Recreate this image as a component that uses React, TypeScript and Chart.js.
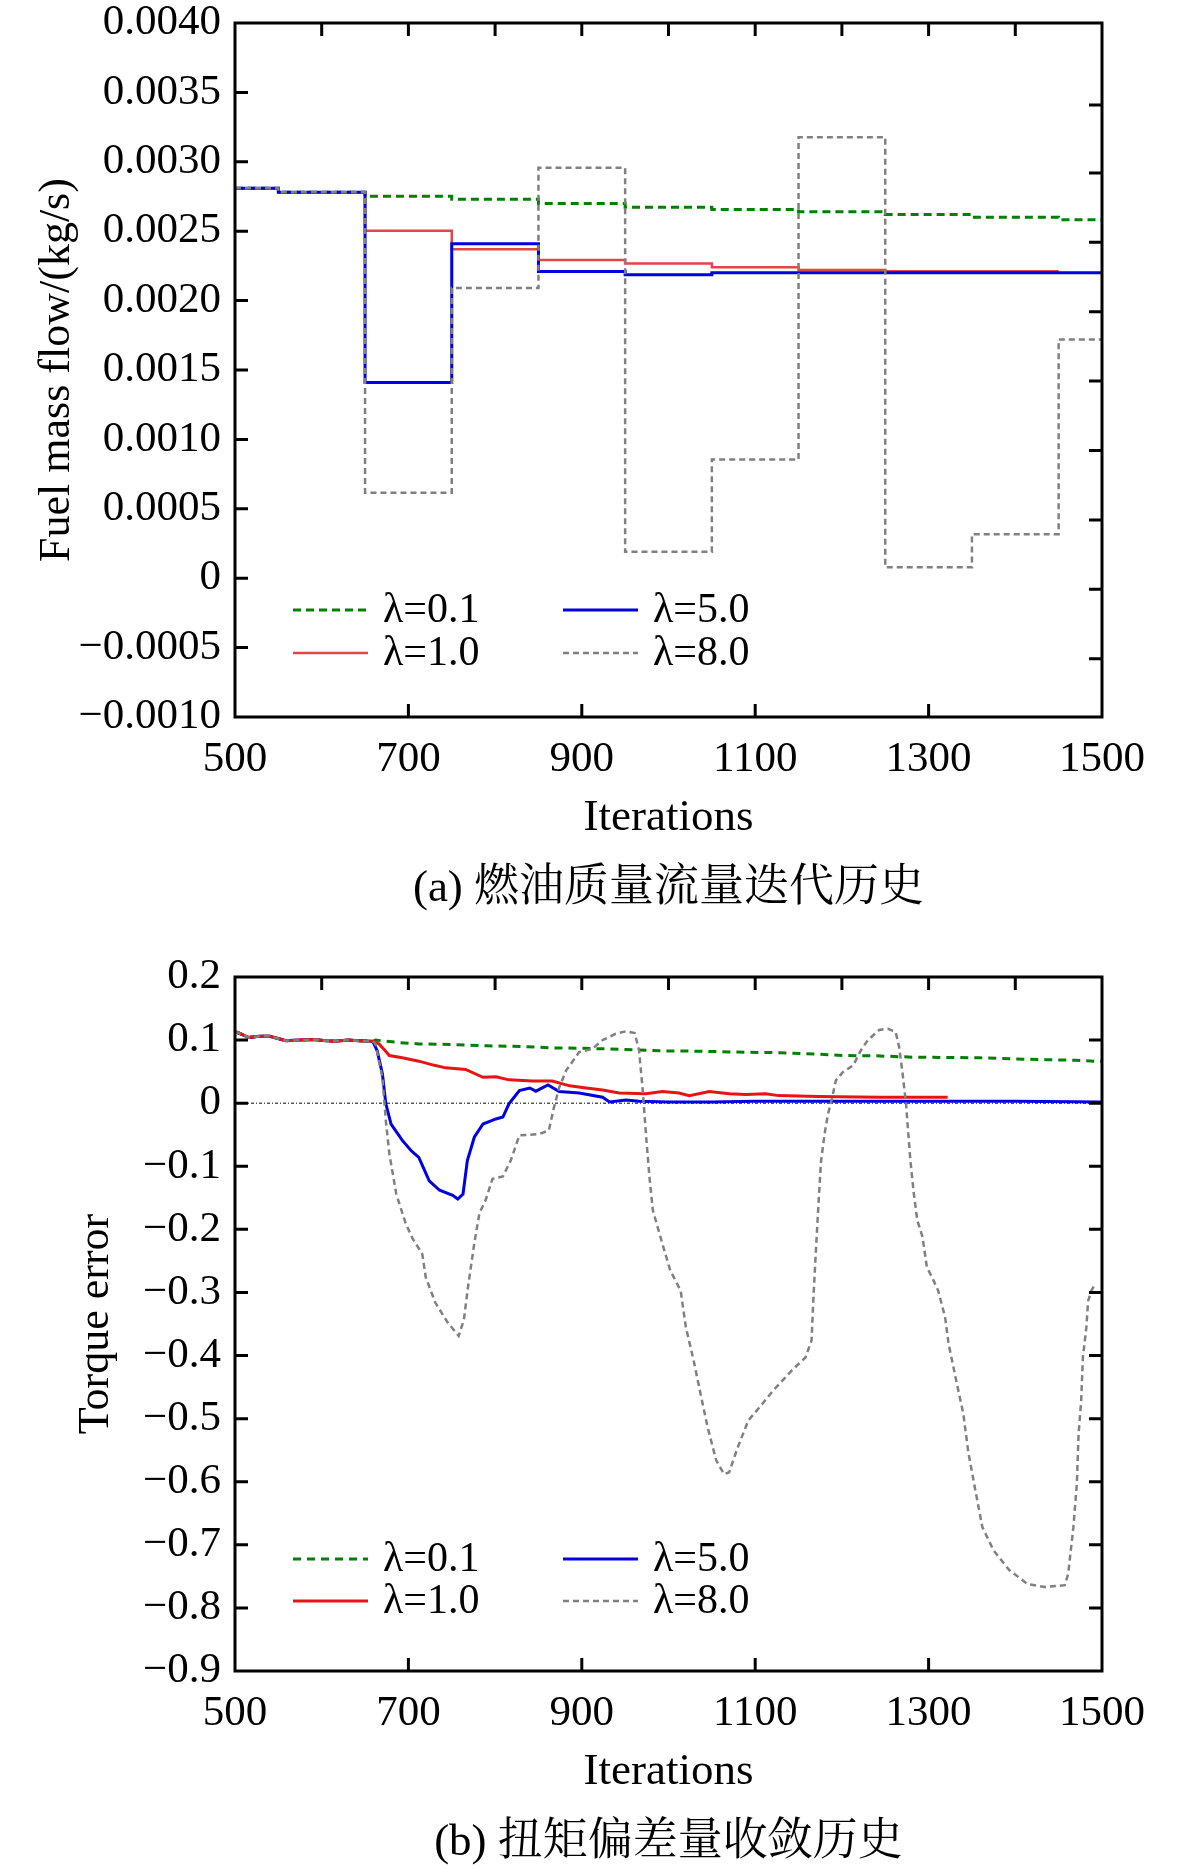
import { useEffect, useRef } from 'react';
import { Chart, registerables, Plugin } from 'chart.js';

Chart.register(...registerables);

const SERIF = "'Liberation Serif', 'Times New Roman', serif";
const CAPTION_FONT = "'Liberation Serif', 'Noto Serif CJK SC', 'Noto Sans CJK SC', serif";

const seriesLabels = ['λ=0.1', 'λ=1.0', 'λ=5.0', 'λ=8.0'];

// x ticks
const xLabelTicks = [500, 700, 900, 1100, 1300, 1500];
const xTopTicks = [600, 700, 800, 900, 1000, 1100, 1200, 1300, 1400];

// (a) fuel mass flow, piecewise constant: each value holds from its x to the next x
const fuelGreen = [[500, 0.00281], [550, 0.00278], [650, 0.002752], [750, 0.00273], [850, 0.0027], [950, 0.002673], [1050, 0.002657], [1150, 0.00264], [1250, 0.00262], [1350, 0.0026], [1450, 0.002583], [1500, 0.002583]];
const fuelRed = [[500, 0.00281], [550, 0.00278], [650, 0.002503], [750, 0.00237], [850, 0.002293], [950, 0.002267], [1050, 0.00224], [1150, 0.00222], [1250, 0.002212], [1450, 0.002212]];
const fuelBlue = [[500, 0.00281], [550, 0.00278], [650, 0.00141], [750, 0.00241], [850, 0.00221], [950, 0.002187], [1050, 0.0022], [1500, 0.0022]];
const fuelGray = [[500, 0.00281], [550, 0.00278], [650, 0.000616], [750, 0.00209], [850, 0.002957], [950, 0.00019], [1050, 0.000855], [1150, 0.003177], [1250, 0.000078], [1350, 0.000316], [1450, 0.00172], [1500, 0.00172]];
const fuelRightTicks = [0.00341, 0.00292, 0.00242, 0.00192, 0.00142, 0.00092, 0.00042, -0.00008, -0.00058];

// (b) torque error
const torqueStart = [[500, 0.113], [503, 0.112], [516, 0.104], [528, 0.106], [540, 0.106], [559, 0.099], [575, 0.1], [590, 0.101], [605, 0.099], [616, 0.098], [630, 0.1], [643, 0.099], [659, 0.098]];
const torqueGreen = [[662, 0.1], [690, 0.096], [712, 0.094], [750, 0.093], [790, 0.091], [830, 0.09], [866, 0.0877], [900, 0.087], [943, 0.0856], [990, 0.083], [1036, 0.0824], [1080, 0.081], [1127, 0.08], [1170, 0.078], [1204, 0.0755], [1240, 0.075], [1281, 0.073], [1320, 0.0725], [1358, 0.072], [1400, 0.07], [1435, 0.069], [1470, 0.068], [1500, 0.066]];
const torqueRed = [[666, 0.094], [672, 0.085], [678, 0.0755], [693, 0.072], [712, 0.0666], [730, 0.06], [743, 0.056], [766, 0.0534], [786, 0.041], [801, 0.042], [816, 0.037], [843, 0.035], [866, 0.035], [886, 0.0275], [905, 0.024], [924, 0.021], [943, 0.016], [974, 0.015], [993, 0.0185], [1012, 0.016], [1024, 0.012], [1047, 0.0185], [1070, 0.015], [1089, 0.0137], [1112, 0.015], [1127, 0.012], [1173, 0.0106], [1243, 0.0095], [1322, 0.0095]];
const torqueBlue = [[664, 0.083], [670, 0.0465], [674, -0.001], [680, -0.033], [693, -0.059], [703, -0.075], [712, -0.086], [724, -0.123], [736, -0.138], [751, -0.146], [757, -0.152], [763, -0.144], [768, -0.091], [776, -0.054], [786, -0.033], [801, -0.025], [809, -0.022], [816, -0.001], [828, 0.02], [840, 0.024], [847, 0.019], [861, 0.029], [874, 0.0185], [897, 0.016], [924, 0.0095], [932, 0.002], [951, 0.005], [966, 0.003], [1000, 0.002], [1050, 0.002], [1100, 0.003], [1200, 0.003], [1300, 0.003], [1400, 0.003], [1500, 0.002]];
const torqueGray = [[662, 0.094], [670, 0.041], [674, -0.028], [678, -0.08], [686, -0.144], [697, -0.191], [705, -0.215], [716, -0.239], [720, -0.276], [731, -0.316], [745, -0.347], [758, -0.369], [764, -0.343], [769, -0.289], [776, -0.222], [782, -0.174], [789, -0.154], [797, -0.12], [809, -0.116], [818, -0.091], [828, -0.051], [851, -0.049], [862, -0.043], [868, -0.006], [874, 0.025], [882, 0.052], [897, 0.081], [912, 0.086], [924, 0.1], [939, 0.11], [951, 0.114], [961, 0.111], [966, 0.084], [970, 0.025], [974, -0.049], [978, -0.117], [982, -0.17], [993, -0.223], [1002, -0.265], [1014, -0.297], [1020, -0.355], [1029, -0.408], [1037, -0.461], [1045, -0.513], [1055, -0.566], [1064, -0.588], [1070, -0.585], [1080, -0.545], [1092, -0.503], [1105, -0.482], [1121, -0.455], [1142, -0.424], [1158, -0.403], [1165, -0.376], [1167, -0.313], [1169, -0.26], [1173, -0.159], [1176, -0.091], [1180, -0.049], [1184, -0.017], [1188, 0.004], [1193, 0.036], [1201, 0.049], [1213, 0.06], [1222, 0.084], [1230, 0.1], [1243, 0.116], [1253, 0.118], [1262, 0.113], [1266, 0.089], [1270, 0.047], [1274, -0.001], [1276, -0.038], [1279, -0.091], [1283, -0.144], [1287, -0.186], [1293, -0.212], [1298, -0.26], [1304, -0.276], [1311, -0.297], [1319, -0.339], [1323, -0.381], [1331, -0.434], [1340, -0.492], [1346, -0.555], [1354, -0.614], [1362, -0.672], [1375, -0.709], [1393, -0.74], [1414, -0.762], [1434, -0.767], [1457, -0.764], [1461, -0.746], [1467, -0.672], [1471, -0.603], [1473, -0.524], [1476, -0.471], [1478, -0.402], [1482, -0.355], [1484, -0.313], [1488, -0.297], [1492, -0.286]];
const zeroLine = [[500, 0], [1500, 0]];
const torqueRightTicks = [0.1, 0, -0.1, -0.2, -0.3, -0.4, -0.5, -0.6, -0.7, -0.8];

const toPts = (arr: number[][]) => arr.map(([x, y]) => ({ x, y }));

const fmt = (v: number, digits: number) => {
  if (Math.abs(v) < 1e-9) return '0';
  return (v < 0 ? '\u2212' : '') + Math.abs(v).toFixed(digits);
};

// frame with inward ticks, two-column legend inside the plot and the caption
function framePlugin(rightTicks: number[], legendRows: number[], caption: string): Plugin {
  return {
    id: 'frame',
    afterDraw(chart) {
      const { ctx, chartArea } = chart;
      const { left, right, top, bottom } = chartArea;
      const xs = chart.scales.x;
      const ys = chart.scales.y;
      const tl = 13;
      ctx.save();
      ctx.strokeStyle = '#000';
      ctx.lineWidth = 3;
      ctx.setLineDash([]);
      ctx.beginPath();
      xTopTicks.forEach((v) => {
        const px = xs.getPixelForValue(v);
        ctx.moveTo(px, top);
        ctx.lineTo(px, top + tl);
      });
      xLabelTicks.forEach((v) => {
        const px = xs.getPixelForValue(v);
        if (px <= left + 1 || px >= right - 1) return;
        ctx.moveTo(px, bottom);
        ctx.lineTo(px, bottom - tl);
      });
      ys.ticks.forEach((t) => {
        const py = ys.getPixelForValue(t.value);
        if (py <= top + 1 || py >= bottom - 1) return;
        ctx.moveTo(left, py);
        ctx.lineTo(left + tl, py);
      });
      rightTicks.forEach((v) => {
        const py = ys.getPixelForValue(v);
        ctx.moveTo(right, py);
        ctx.lineTo(right - tl, py);
      });
      ctx.stroke();
      ctx.strokeRect(left, top, right - left, bottom - top);

      // legend
      const cols = [58, 328];
      const lineLen = 75;
      const textGap = 90;
      ctx.font = `42px ${SERIF}`;
      ctx.fillStyle = '#000';
      ctx.textBaseline = 'middle';
      ctx.textAlign = 'left';
      for (let i = 0; i < 4; i++) {
        const ds: any = chart.data.datasets[i];
        const cx = left + cols[Math.floor(i / 2)];
        const cy = bottom + legendRows[i % 2];
        ctx.beginPath();
        ctx.strokeStyle = ds.borderColor;
        ctx.lineWidth = ds.borderWidth;
        ctx.setLineDash(ds.borderDash || []);
        ctx.moveTo(cx, cy);
        ctx.lineTo(cx + lineLen, cy);
        ctx.stroke();
        ctx.setLineDash([]);
        ctx.fillText(seriesLabels[i], cx + textGap, cy + 1);
      }

      // caption centred under the plot area
      ctx.font = `45px ${CAPTION_FONT}`;
      ctx.textAlign = 'center';
      ctx.fillText(caption, (left + right) / 2, bottom + 172);
      ctx.restore();
    },
  };
}

interface PanelProps {
  datasets: any[];
  yMin: number;
  yMax: number;
  yStep: number;
  digits: number;
  yTitle: string;
  yTitlePad: number;
  caption: string;
  rightTicks: number[];
  legendRows: number[];
}

function Panel({ datasets, yMin, yMax, yStep, digits, yTitle, yTitlePad, caption, rightTicks, legendRows }: PanelProps) {
  const canvasRef = useRef<HTMLCanvasElement>(null);
  const chartRef = useRef<Chart | null>(null);

  useEffect(() => {
    if (!canvasRef.current) return;
    if (chartRef.current) chartRef.current.destroy();

    chartRef.current = new Chart(canvasRef.current, {
      type: 'line',
      data: { datasets },
      options: {
        animation: false,
        responsive: true,
        maintainAspectRatio: false,
        events: [],
        layout: { padding: { left: 20, right: 79, top: 23, bottom: 69 } },
        elements: { point: { radius: 0 }, line: { tension: 0 } },
        plugins: {
          legend: { display: false },
          tooltip: { enabled: false },
          title: { display: false },
        },
        scales: {
          x: {
            type: 'linear',
            min: 500,
            max: 1500,
            grid: { display: false, drawTicks: false },
            border: { display: false },
            ticks: {
              stepSize: 200,
              padding: 19,
              color: '#000',
              font: { family: SERIF, size: 43, lineHeight: 1.1 },
              callback: (v: any) => String(v),
            },
            title: {
              display: true,
              text: 'Iterations',
              color: '#000',
              font: { family: SERIF, size: 45, lineHeight: 1.2 },
              padding: 0,
            },
            afterFit: (s: any) => {
              s.height = 128;
              s.paddingLeft = 0;
              s.paddingRight = 0;
            },
          },
          y: {
            type: 'linear',
            min: yMin,
            max: yMax,
            grid: { display: false, drawTicks: false },
            border: { display: false },
            ticks: {
              stepSize: yStep,
              padding: 14,
              color: '#000',
              font: { family: SERIF, size: 43, lineHeight: 1.1 },
              callback: (v: any) => fmt(Number(v), digits),
            },
            title: {
              display: true,
              text: yTitle,
              color: '#000',
              font: { family: SERIF, size: 44, lineHeight: 1.2 },
              padding: { top: yTitlePad, bottom: 0 },
            },
            afterFit: (s: any) => {
              s.width = 215;
              s.paddingTop = 0;
              s.paddingBottom = 0;
            },
          },
        },
      },
      plugins: [framePlugin(rightTicks, legendRows, caption)],
    });

    return () => {
      if (chartRef.current) {
        chartRef.current.destroy();
        chartRef.current = null;
      }
    };
  }, []);

  return (
    <div style={{ width: 1181, height: 914, position: 'relative' }}>
      <canvas ref={canvasRef}></canvas>
    </div>
  );
}

const GREEN = 'rgb(0,128,0)';
const BLUE = 'rgb(0,0,225)';
const GRAY = 'rgb(128,128,128)';

export default function App() {
  useEffect(() => {
    document.body.style.margin = '0';
    document.body.style.background = '#fff';
  }, []);

  const fuelSets = [
    { label: seriesLabels[0], data: toPts(fuelGreen), stepped: true, borderColor: GREEN, borderWidth: 3, borderDash: [8, 5], order: 3 },
    { label: seriesLabels[1], data: toPts(fuelRed), stepped: true, borderColor: 'rgb(225,70,70)', borderWidth: 2.5, order: 2 },
    { label: seriesLabels[2], data: toPts(fuelBlue), stepped: true, borderColor: BLUE, borderWidth: 3, order: 1 },
    { label: seriesLabels[3], data: toPts(fuelGray), stepped: true, borderColor: GRAY, borderWidth: 2.5, borderDash: [6, 4], order: 0 },
  ];

  const torqueSets = [
    { label: seriesLabels[0], data: toPts([...torqueStart, ...torqueGreen]), borderColor: GREEN, borderWidth: 3, borderDash: [8, 6], order: 3 },
    { label: seriesLabels[1], data: toPts([...torqueStart, ...torqueRed]), borderColor: 'rgb(232,20,20)', borderWidth: 3, order: 1 },
    { label: seriesLabels[2], data: toPts([...torqueStart, ...torqueBlue]), borderColor: BLUE, borderWidth: 3, order: 2 },
    { label: seriesLabels[3], data: toPts([...torqueStart, ...torqueGray]), borderColor: GRAY, borderWidth: 2.5, borderDash: [6, 4], order: 0 },
    { label: 'zero', data: toPts(zeroLine), borderColor: '#000', borderWidth: 1, borderDash: [3, 2, 1, 2], order: 5 },
  ];

  return (
    <div style={{ width: 1181, background: '#fff' }}>
      <Panel
        datasets={fuelSets}
        yMin={-0.001}
        yMax={0.004}
        yStep={0.0005}
        digits={4}
        yTitle="Fuel mass flow/(kg/s)"
        yTitlePad={11}
        caption="(a) 燃油质量流量迭代历史"
        rightTicks={fuelRightTicks}
        legendRows={[-107, -64]}
      />
      <div style={{ height: 40 }}></div>
      <Panel
        datasets={torqueSets}
        yMin={-0.9}
        yMax={0.2}
        yStep={0.1}
        digits={1}
        yTitle="Torque error"
        yTitlePad={50}
        caption="(b) 扭矩偏差量收敛历史"
        rightTicks={torqueRightTicks}
        legendRows={[-112, -70]}
      />
    </div>
  );
}
